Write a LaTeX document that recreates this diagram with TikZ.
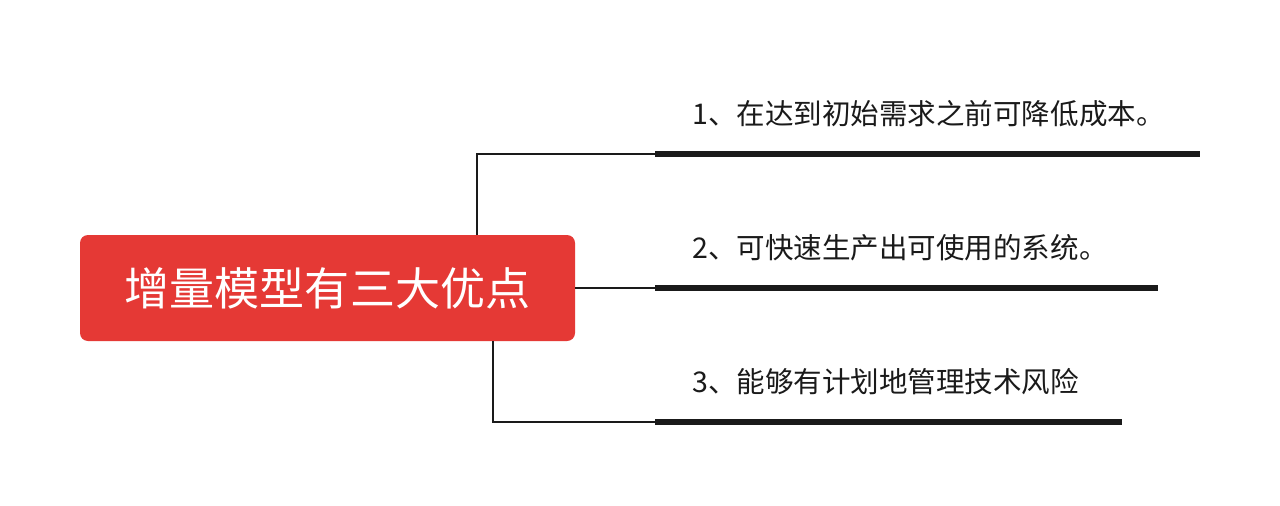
\documentclass[tikz,border=0pt]{standalone}
\usepackage{fontspec}
\setmainfont{Noto Sans CJK SC}
\definecolor{boxred}{HTML}{E53935}
\definecolor{ink}{HTML}{1A1A1A}
\begin{document}
\begin{tikzpicture}[x=0.75pt,y=-0.75pt,
  thinline/.style={draw=ink,line width=1.1pt},
  bar/.style={draw=ink,line width=5.2pt},
  item/.style={anchor=west,inner sep=0pt,font=\fontsize{21.4pt}{24pt}\selectfont,text=ink}]
\useasboundingbox[fill=white] (0,0) rectangle (1280,506);
\node[fill=boxred,rounded corners=6pt,minimum width=495*0.75pt,minimum height=106*0.75pt,inner sep=0pt,
  text=white,font=\fontsize{33.8pt}{36pt}\selectfont] (root) at (327.5,288) {增量模型有三大优点};
\coordinate (t1) at (477,235);
\coordinate (b1) at (493,341);
\coordinate (s1) at (655,154);
\coordinate (s2) at (655,288);
\coordinate (s3) at (655,422);
\coordinate (e1) at (1200,154);
\coordinate (e2) at (1158,288);
\coordinate (e3) at (1122,422);
\draw[thinline] (t1) |- (s1);
\draw[thinline] (root.east) -- (s2);
\draw[thinline] (b1) |- (s3);
\draw[bar] (s1) -- (e1);
\draw[bar] (s2) -- (e2);
\draw[bar] (s3) -- (e3);
\node[item] (l1) at (692,114) {1、在达到初始需求之前可降低成本。};
\node[item] (l2) at (692,248) {2、可快速生产出可使用的系统。};
\node[item] (l3) at (692,382) {3、能够有计划地管理技术风险};
\end{tikzpicture}
\end{document}
